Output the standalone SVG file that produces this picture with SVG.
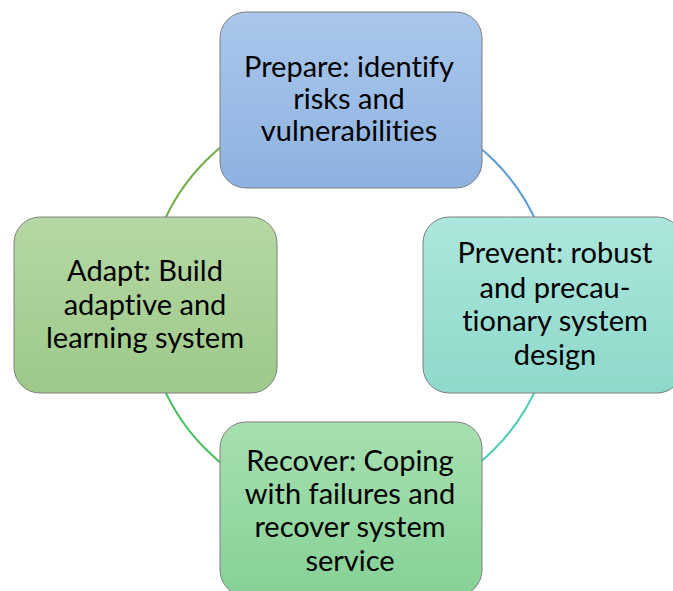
<svg xmlns="http://www.w3.org/2000/svg" width="673" height="591" viewBox="0 0 673 591">
<defs>
<linearGradient id="gBlue" x1="0" y1="0" x2="0" y2="1"><stop offset="0" stop-color="#aac7ec"/><stop offset="1" stop-color="#8db2e0"/></linearGradient>
<linearGradient id="gTeal" x1="0" y1="0" x2="0" y2="1"><stop offset="0" stop-color="#ade6dc"/><stop offset="1" stop-color="#8ed9cb"/></linearGradient>
<linearGradient id="gLeaf" x1="0" y1="0" x2="0" y2="1"><stop offset="0" stop-color="#b6d8a4"/><stop offset="1" stop-color="#9dc98a"/></linearGradient>
<linearGradient id="gMint" x1="0" y1="0" x2="0" y2="1"><stop offset="0" stop-color="#a7e0b1"/><stop offset="1" stop-color="#86d196"/></linearGradient>
</defs>
<style>
.box{stroke:#7f7f7f;stroke-width:1}
.lbl{font-family:Lato,"Open Sans","Liberation Sans",sans-serif;font-size:29px;fill:#000;text-anchor:middle;font-variant-ligatures:none;font-feature-settings:"liga" 0}
.arc{fill:none;stroke-width:2}
</style>
<rect width="673" height="591" fill="#fff"/>
<g id="connectors">
<path class="arc" stroke="#5b9bd5" d="M350,101 A204,204 0 0 1 554,305"/>
<path class="arc" stroke="#4ecdb5" d="M554,305 A204,204 0 0 1 350,509"/>
<path class="arc" stroke="#45c25e" d="M350,509 A204,204 0 0 1 146,305"/>
<path class="arc" stroke="#70ad47" d="M146,305 A204,204 0 0 1 350,101"/>
</g>
<g id="prepare">
<rect class="box" x="220" y="12" width="262" height="176" rx="26" fill="url(#gBlue)"/>
<text class="lbl"><tspan x="349" y="77">Prepare: identify</tspan><tspan x="349" y="109">risks and</tspan><tspan x="349" y="141">vulnerabilities</tspan></text>
</g>
<g id="prevent">
<rect class="box" x="423" y="217" width="260" height="176" rx="26" fill="url(#gTeal)"/>
<text class="lbl"><tspan x="555" y="263">Prevent: robust</tspan><tspan x="555" y="298">and precau-</tspan><tspan x="555" y="331">tionary system</tspan><tspan x="555" y="365">design</tspan></text>
</g>
<g id="adapt">
<rect class="box" x="14" y="217" width="263" height="176" rx="26" fill="url(#gLeaf)"/>
<text class="lbl"><tspan x="145" y="281">Adapt: Build</tspan><tspan x="145" y="315">adaptive and</tspan><tspan x="145" y="348">learning system</tspan></text>
</g>
<g id="recover">
<rect class="box" x="220" y="422" width="262" height="174" rx="26" fill="url(#gMint)"/>
<text class="lbl"><tspan x="350" y="471">Recover: Coping</tspan><tspan x="350" y="504">with failures and</tspan><tspan x="350" y="537">recover system</tspan><tspan x="350" y="571">service</tspan></text>
</g>
</svg>
